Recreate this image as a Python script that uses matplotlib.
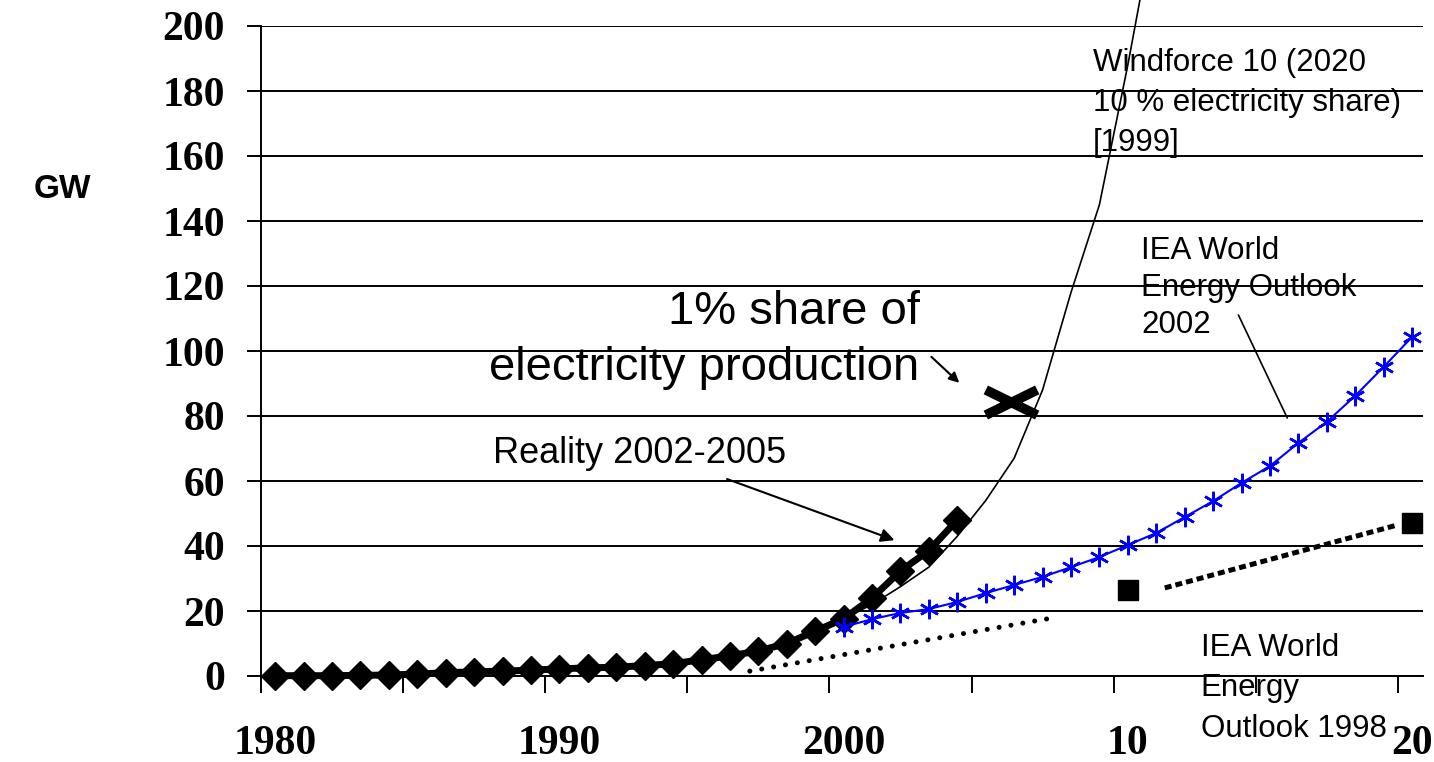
import numpy as np
import matplotlib
matplotlib.use('Agg')
import matplotlib.pyplot as plt
from matplotlib.path import Path

# --- data ---
real_years = list(range(1980, 2005))
real_gw = [0.1, 0.1, 0.1, 0.2, 0.3, 0.6, 1.0, 1.3, 1.5, 1.8, 2.2, 2.5, 2.7, 3.2,
           3.8, 5.0, 6.2, 7.7, 10.0, 13.8, 17.6, 24.0, 32.3, 38.6, 48.0]

wf_years = list(range(1999, 2012))
wf_gw = [13.8, 17.6, 22.0, 27.5, 33.5, 43.0, 54.0, 67.0, 88.0, 118.0, 145.0, 188.0, 235.0]

weo02_years = list(range(2000, 2021))
weo02_gw = [15.1, 17.5, 19.4, 20.6, 22.8, 25.5, 28.0, 30.5, 33.5, 36.6, 40.3,
            44.0, 48.9, 53.8, 59.4, 64.6, 71.7, 78.2, 86.2, 95.1, 104.3]

weo98_years = [2010, 2020]
weo98_gw = [26.5, 47.1]
weo98_trend_x = [2011.3, 2019.5]
weo98_trend_y = [27.1, 46.5]
weo98_early_x = [1996.7, 2007.5]
weo98_early_y = [1.5, 18.1]

share1_year = [2005.9]
share1_gw = [84.3]

xtick_years = [1980, 1990, 2000, 2010, 2020]
xtick_labels = ['1980', '1990', '2000', '10', '20']
ytick_vals = list(range(0, 201, 20))

SANS = 'Liberation Sans'
SERIF = 'Liberation Serif'
plt.rcParams['font.family'] = [SANS, 'DejaVu Sans']

fig = plt.figure(figsize=(14.34, 7.62), dpi=100)
ax = fig.add_axes([261 / 1434, 86 / 762, 1162 / 1434, 650 / 762])
ax.set_xlim(1979.614, 2020.386)
ax.set_ylim(0, 200)

# 网格与坐标轴
ax.set_yticks(ytick_vals)
ax.grid(axis='y', color='black', lw=1.4)
ax.set_axisbelow(True)
for s in ['top', 'right']:
    ax.spines[s].set_visible(False)
for s in ['left', 'bottom']:
    ax.spines[s].set_linewidth(1.4)
    ax.spines[s].set_color('black')

ax.tick_params(axis='y', direction='out', length=10, width=1.4, pad=16, labelsize=30)
ax.set_xticks(xtick_years)
ax.set_xticklabels(xtick_labels)
ax.set_xticks(np.arange(1979.5, 2021, 5), minor=True)
ax.tick_params(axis='x', which='major', length=0, pad=35, labelsize=30)
ax.tick_params(axis='x', which='minor', direction='out', length=12, width=1.4)
for lbl in ax.get_xticklabels() + ax.get_yticklabels():
    lbl.set_fontfamily(SERIF)
    lbl.set_fontweight('bold')

# 曲线
ax.plot(weo98_early_x, weo98_early_y, color='black', lw=3.6, ls=(0, (0.01, 2.4)),
        dash_capstyle='round', zorder=2)
ax.plot(weo98_trend_x, weo98_trend_y, color='black', lw=3.6, ls=(0, (1.4, 0.8)),
        dash_capstyle='butt', zorder=2)
ax.plot(weo98_years, weo98_gw, ls='none', marker='s', ms=14, color='black',
        zorder=3, clip_on=False)
ax.plot(real_years, real_gw, color='black', lw=5, marker='D', ms=14, zorder=3,
        clip_on=False)
ax.plot(wf_years, wf_gw, color='black', lw=1.2, zorder=3.5, clip_on=False)
ax.plot(weo02_years, weo02_gw, color='blue', lw=1.5, marker=(6, 2, 0), ms=14,
        mew=1.8, zorder=4, clip_on=False)

x_path = Path([(-1, -0.49), (1, 0.49), (-1, 0.49), (1, -0.49)],
              [Path.MOVETO, Path.LINETO, Path.MOVETO, Path.LINETO])
ax.plot(share1_year, share1_gw, ls='none', marker=x_path, ms=37, mew=7,
        color='black', zorder=4)

# 文字标注
ax.text(2002.67, 103.4, '1% share of\nelectricity production', ha='right', va='center',
        multialignment='right', fontsize=34, linespacing=1.35, zorder=6)
ax.annotate('', xy=(2004.07, 90.2), xytext=(2003.09, 98.2),
            arrowprops=dict(arrowstyle='-|>', color='black', lw=1.5,
                            mutation_scale=15, shrinkA=0, shrinkB=0))

ax.text(1987.65, 68.6, 'Reality 2002-2005', fontsize=26, ha='left', va='center', zorder=6)
ax.annotate('', xy=(2001.79, 41.8), xytext=(1995.9, 60.6),
            arrowprops=dict(arrowstyle='-|>', color='black', lw=1.5,
                            mutation_scale=20, shrinkA=0, shrinkB=0))

ax.text(2008.77, 176.3, 'Windforce 10 (2020\n10 % electricity share)\n[1999]',
        fontsize=22.5, ha='left', va='center', linespacing=1.45, zorder=6)

ax.text(2010.46, 119.4, 'IEA World\nEnergy Outlook\n2002', fontsize=22.5,
        ha='left', va='center', linespacing=1.32, zorder=6)
ax.annotate('', xy=(2015.61, 79.4), xytext=(2013.89, 111.1),
            arrowprops=dict(arrowstyle='-', color='black', lw=1.2,
                            shrinkA=0, shrinkB=0))

ax.text(2012.56, -3.8, 'IEA World\nEnergy\nOutlook 1998', fontsize=22.5,
        ha='left', va='center', linespacing=1.45, zorder=10)

fig.text(62 / 1434, 1 - 189 / 762, 'GW', fontsize=24, fontweight='bold',
         ha='center', va='center')

fig.savefig('out.png', dpi=100)
